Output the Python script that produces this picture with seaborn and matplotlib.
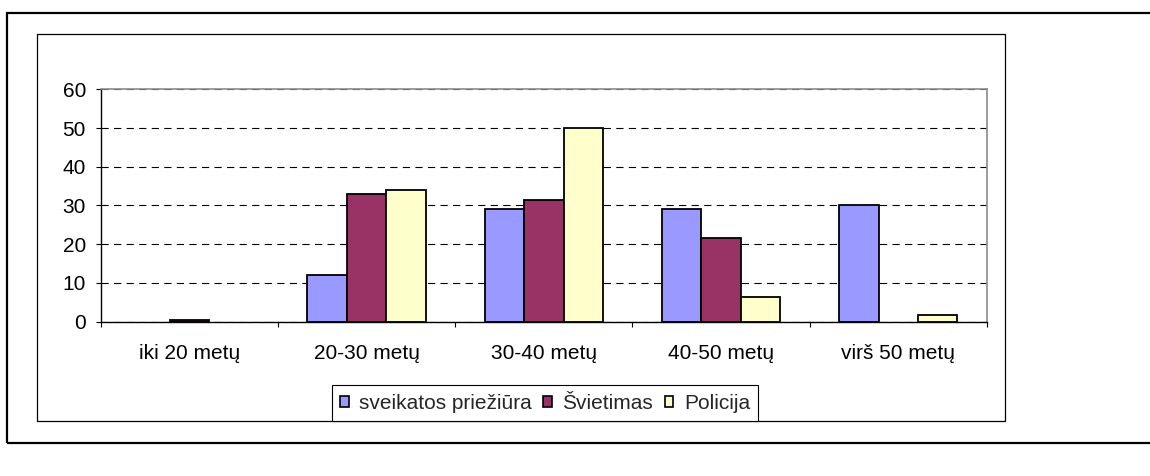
import pandas as pd
import seaborn as sns

import matplotlib.pyplot as plt
from matplotlib import patches

age_groups = ['iki 20 metų', '20-30 metų', '30-40 metų', '40-50 metų', 'virš 50 metų']
series_names = ['sveikatos priežiūra', 'Švietimas', 'Policija']
sveikatos = [0, 12, 29, 29, 30]
svietimas = [0.5, 33, 31.5, 21.7, 0]
policija = [0, 34, 50, 6.3, 1.6]
y_ticks = [0, 10, 20, 30, 40, 50, 60]
colors = ['#9999FF', '#993366', '#FFFFCC']

df = pd.DataFrame({
    'amzius': age_groups * 3,
    'sritis': [s for s in series_names for _ in age_groups],
    'reiksme': sveikatos + svietimas + policija,
})

sns.set_theme(style='white')
plt.rcParams['font.family'] = ['Liberation Sans', 'DejaVu Sans']
plt.rcParams['font.size'] = 15

W, H = 1150, 476
fig = plt.figure(figsize=(W / 100, H / 100), dpi=100)
ax = fig.add_axes([100.7 / W, 1 - 321.5 / H, (987 - 100.7) / W, (321.5 - 89.3) / H])

sns.barplot(data=df, x='amzius', y='reiksme', hue='sritis', palette=colors,
            saturation=1, width=0.667, edgecolor='black', linewidth=1.3,
            errorbar=None, ax=ax)

# empty groups show nothing in the original
for bar in ax.patches:
    if bar.get_height() == 0:
        bar.set_linewidth(0)

ax.set_xlim(-0.5, len(age_groups) - 0.5)
ax.set_ylim(0, 60)
ax.set_yticks(y_ticks)
ax.set_xlabel('')
ax.set_ylabel('')

ax.set_axisbelow(True)
ax.yaxis.grid(True, color='black', linewidth=0.8, linestyle=(0, (6.5, 4.8)))
ax.xaxis.grid(False)

for side in ['left', 'bottom']:
    ax.spines[side].set_color('black')
    ax.spines[side].set_linewidth(1)
for side in ['top', 'right']:
    ax.spines[side].set_color('#8c8c8c')
    ax.spines[side].set_linewidth(1.2)

ax.tick_params(axis='y', which='major', left=True, length=3.6, width=0.8,
               color='black', pad=7, labelsize=15, labelcolor='black')
ax.set_xticks([i - 0.5 for i in range(len(age_groups) + 1)], minor=True)
ax.tick_params(axis='x', which='minor', bottom=True, length=3.6, width=0.8,
               color='black')
ax.tick_params(axis='x', which='major', bottom=False, length=0, pad=16.5,
               labelsize=15, labelcolor='black')

# legend under the plot, sitting on the lower edge of the chart box
handles, labels = ax.get_legend_handles_labels()
ax.get_legend().remove()
leg = fig.legend(handles, labels, loc='lower center', ncol=3,
                 bbox_to_anchor=((327 + 763) / 2 / W, 1 - 421 / H),
                 bbox_transform=fig.transFigure, fontsize=15,
                 frameon=True, fancybox=False, framealpha=1, edgecolor='black',
                 borderpad=0.4, handlelength=0.42, handleheight=0.42,
                 handletextpad=0.5, columnspacing=0.55, borderaxespad=0)
leg.get_frame().set_linewidth(0.8)
for h in leg.legend_handles:
    h.set_edgecolor('black')
    h.set_linewidth(1.2)

# chart area box and the outer frame
fig.patches.append(patches.Rectangle((37 / W, 1 - 421 / H), (1005 - 37) / W, (421 - 34) / H,
                                     transform=fig.transFigure, fill=False,
                                     edgecolor='black', linewidth=0.9))
fig.patches.append(patches.Rectangle((7 / W, 1 - 443 / H), 1.1, (443 - 13) / H,
                                     transform=fig.transFigure, fill=False,
                                     edgecolor='black', linewidth=1.6))

fig.savefig('out.png', dpi=100)
